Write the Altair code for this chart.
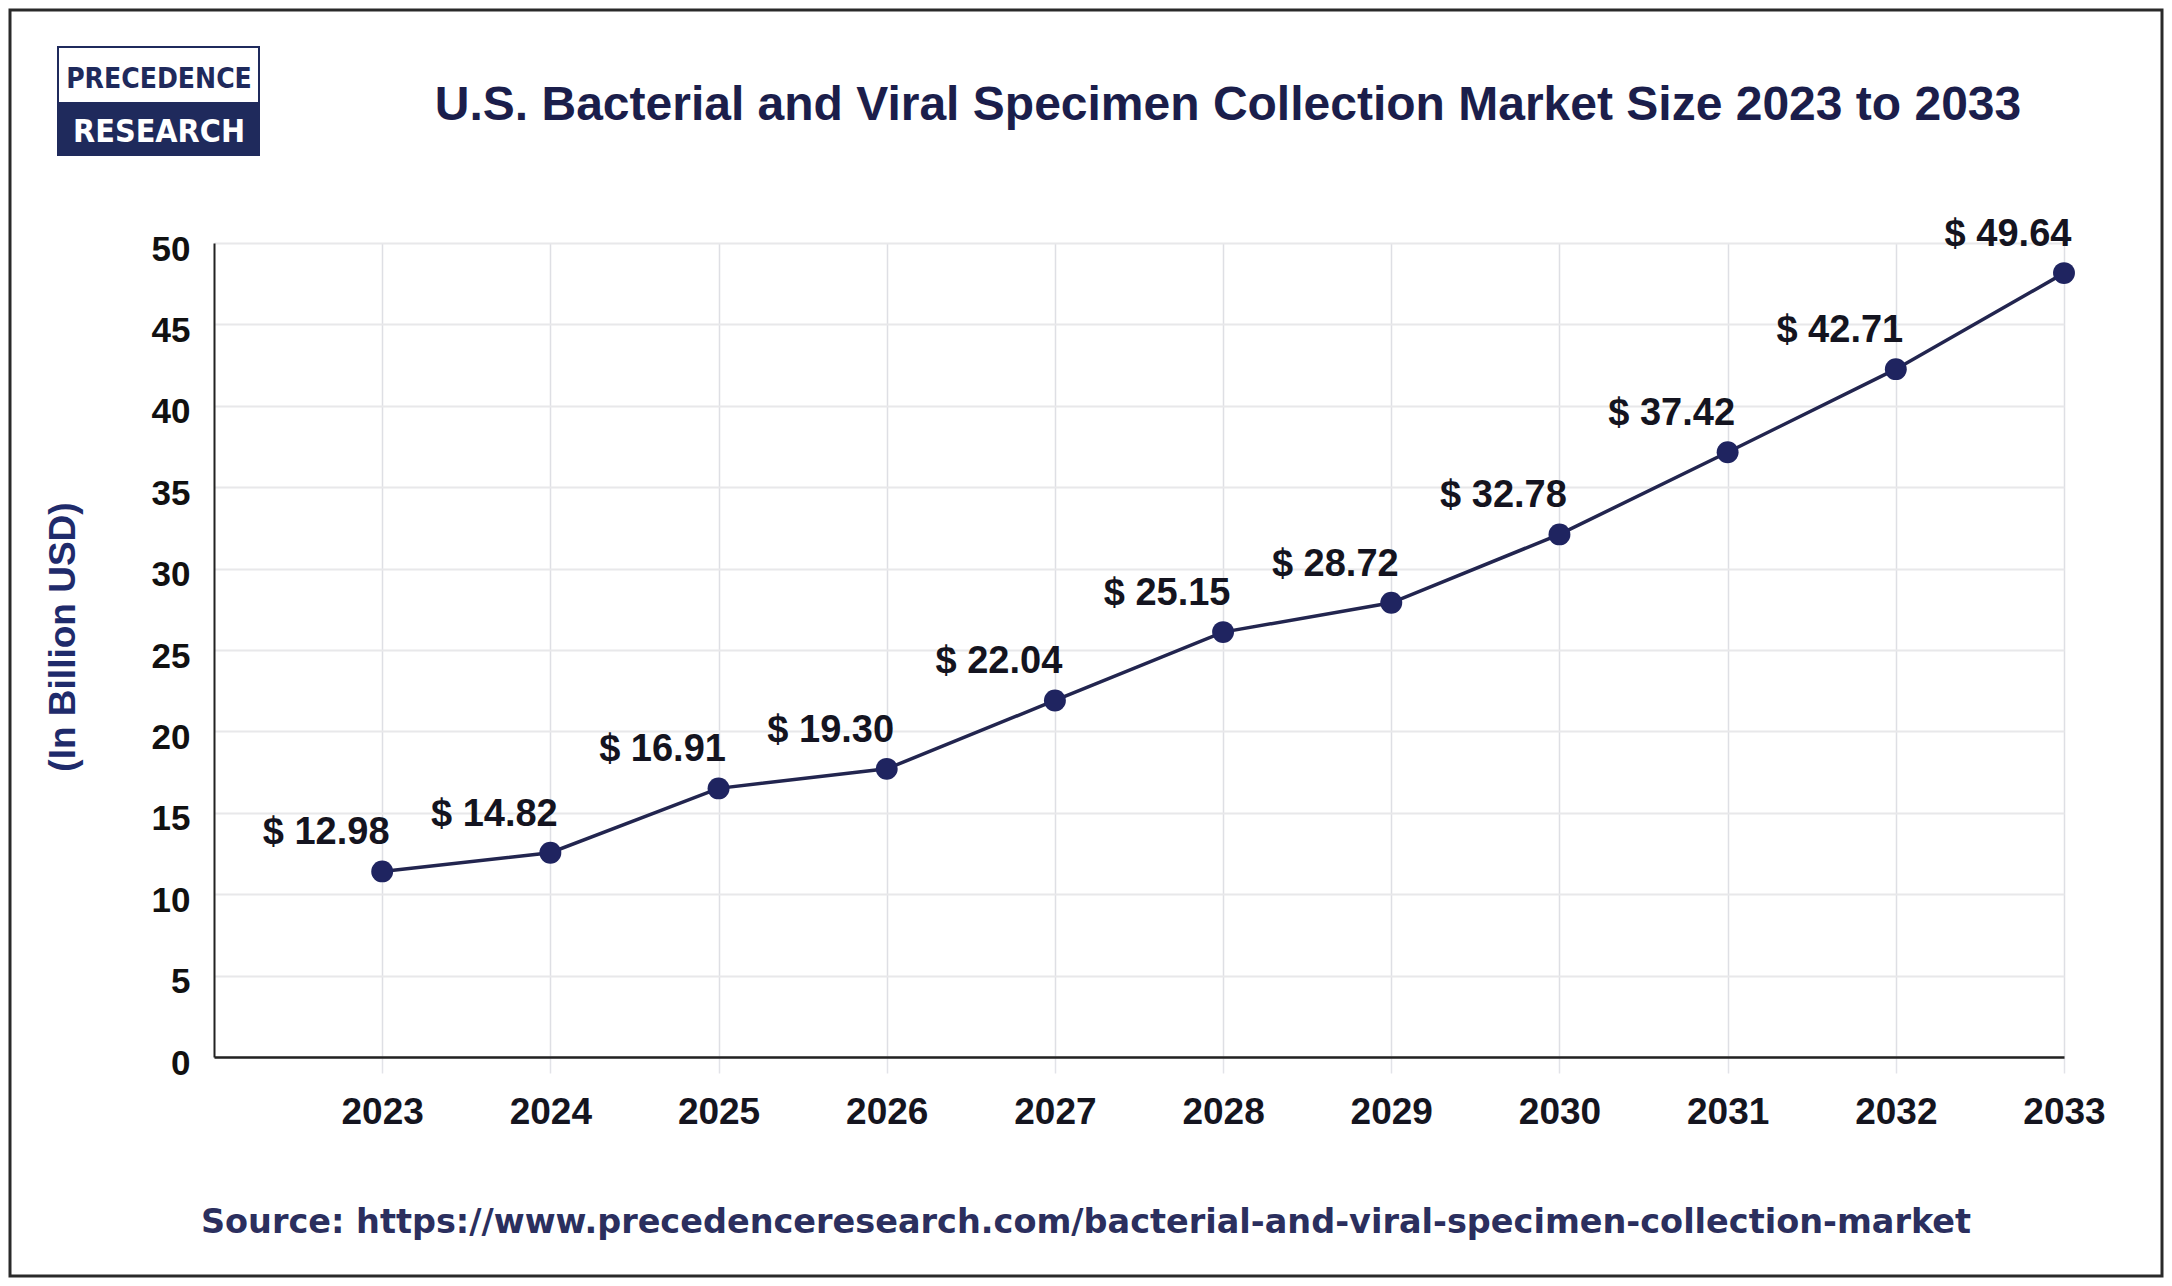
import altair as alt
import pandas as pd

# ---------------- data ----------------
years = [2023, 2024, 2025, 2026, 2027, 2028, 2029, 2030, 2031, 2032, 2033]
# point heights as drawn in the reference
plotted_values = [11.4, 12.55, 16.5, 17.7, 21.9, 26.1, 27.9, 32.1, 37.15, 42.25, 48.15]
# printed value labels
label_values = [12.98, 14.82, 16.91, 19.30, 22.04, 25.15, 28.72, 32.78, 37.42, 42.71, 49.64]
y_ticks = [0, 5, 10, 15, 20, 25, 30, 35, 40, 45, 50]
x_ticks = years

title_text = "U.S. Bacterial and Viral Specimen Collection Market Size 2023 to 2033"
y_title_text = "(In Billion USD)"
source_text = "Source: https://www.precedenceresearch.com/bacterial-and-viral-specimen-collection-market"
logo_top = "PRECEDENCE"
logo_bottom = "RESEARCH"

df = pd.DataFrame({
    "year": years,
    "value": plotted_values,
    "label": [f"$ {v:.2f}" for v in label_values],
})

W, H = 1850, 814
NAVY = "#1f2a5c"
FONT = "Liberation Sans, Arial, Helvetica, sans-serif"

x_enc = alt.X(
    "year:Q",
    scale=alt.Scale(domain=[2022, 2033], nice=False, zero=False),
    axis=alt.Axis(
        values=x_ticks, format="d", title=None,
        grid=True, gridColor="#dedfe4", gridWidth=1.5,
        ticks=True, tickColor="#e2e3e8", tickSize=16, tickWidth=1.5,
        labelPadding=50, labelBaseline="alphabetic",
        labelFlush=False, labelOverlap=False,
        labelFont=FONT, labelFontSize=37, labelFontWeight="bold", labelColor="#15151f",
        domainColor="#222222", domainWidth=2.5,
    ),
)
y_enc = alt.Y(
    "value:Q",
    scale=alt.Scale(domain=[0, 50], nice=False, zero=True),
    axis=alt.Axis(
        values=y_ticks, title=None,
        grid=True, gridColor="#e8e8ea", gridWidth=2,
        ticks=False, labelPadding=24, labelOffset=6,
        labelFont=FONT, labelFontSize=35, labelFontWeight="bold", labelColor="#111111",
        domainColor="#222222", domainWidth=2,
    ),
)

base = alt.Chart(df).encode(x=x_enc, y=y_enc)

line = base.mark_line(color="#22254f", strokeWidth=3.5)
points = base.mark_circle(size=480, color="#1f2460", opacity=1)
labels = base.mark_text(
    dx=-56, dy=-27, align="center", baseline="alphabetic",
    font=FONT, fontSize=38, fontWeight="bold", color="#141420",
).encode(text="label:N")

one = pd.DataFrame({"k": [0]})

# decorations (positions in plot-area pixels)
frame = alt.Chart(one).mark_rect(fill=None, stroke="#2a2a2a", strokeWidth=3).encode(
    x=alt.value(-204), x2=alt.value(W + 98), y=alt.value(-233), y2=alt.value(H + 219)
)
logo_box = alt.Chart(one).mark_rect(fill="white", stroke=NAVY, strokeWidth=2).encode(
    x=alt.value(-156), x2=alt.value(45), y=alt.value(-196), y2=alt.value(-88)
)
logo_fill = alt.Chart(one).mark_rect(fill=NAVY).encode(
    x=alt.value(-156), x2=alt.value(45), y=alt.value(-141), y2=alt.value(-88)
)
LOGO_FONT = "Liberation Sans Narrow, DejaVu Sans Condensed, Arial Narrow, sans-serif"
logo_t1 = alt.Chart(pd.DataFrame({"t": [logo_top]})).mark_text(
    align="center", baseline="alphabetic", font=LOGO_FONT, fontSize=28,
    fontWeight="bold", color=NAVY,
).encode(x=alt.value(-55), y=alt.value(-155), text="t:N")
logo_t2 = alt.Chart(pd.DataFrame({"t": [logo_bottom]})).mark_text(
    align="center", baseline="alphabetic", font=LOGO_FONT, fontSize=32,
    fontWeight="bold", color="white",
).encode(x=alt.value(-55), y=alt.value(-101), text="t:N")

title = alt.Chart(pd.DataFrame({"t": [title_text]})).mark_text(
    align="center", baseline="alphabetic", font=FONT, fontSize=48,
    fontWeight="bold", color="#1b1e4b",
).encode(x=alt.value(1014), y=alt.value(-123), text="t:N")

y_title = alt.Chart(pd.DataFrame({"t": [y_title_text]})).mark_text(
    align="center", baseline="middle", angle=270, font=FONT, fontSize=37,
    fontWeight="bold", color="#1f2b6b",
).encode(x=alt.value(-150), y=alt.value(394), text="t:N")

source = alt.Chart(pd.DataFrame({"t": [source_text]})).mark_text(
    align="center", baseline="alphabetic",
    font="DejaVu Sans, Verdana, sans-serif", fontSize=33.5,
    fontWeight="bold", color="#2b2f5e",
).encode(x=alt.value(872), y=alt.value(990), text="t:N")

chart = alt.layer(
    frame, logo_box, logo_fill, logo_t1, logo_t2, title, y_title, source,
    line, points, labels,
).properties(
    width=W, height=H,
    autosize=alt.AutoSizeParams(type="none"),
    padding={"left": 206, "top": 235, "right": 100, "bottom": 221},
    background="white",
).configure_view(stroke=None)

chart.save("out.html", embed_options={"renderer": "svg", "actions": False})
